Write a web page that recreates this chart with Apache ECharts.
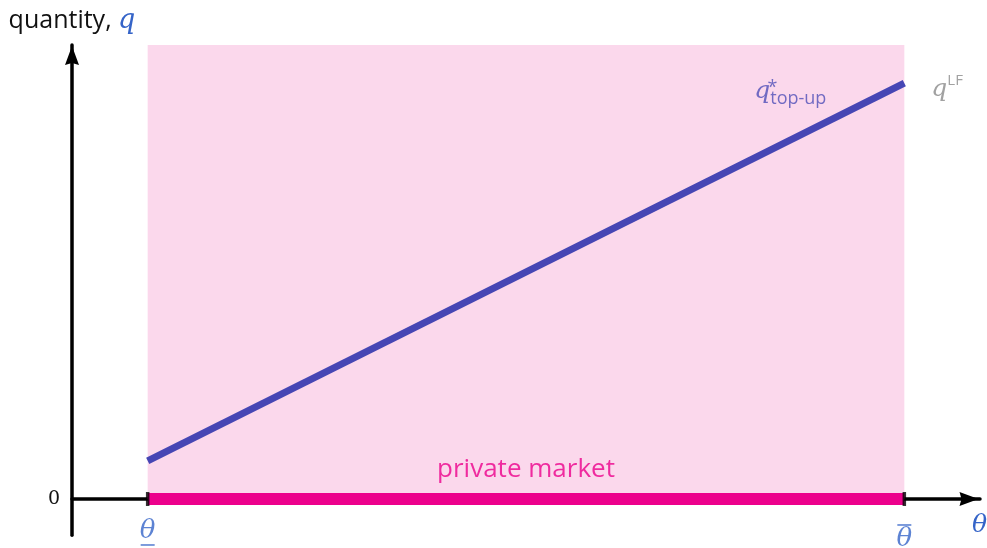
<!DOCTYPE html>
<html>
<head>
<meta charset="utf-8">
<script src="https://cdn.jsdelivr.net/npm/echarts@6/dist/echarts.min.js"></script>
<style>html,body{margin:0;padding:0;background:#fff}#chart{width:987px;height:548px}</style>
</head>
<body>
<div id="chart"></div>
<script>
// type range and axis extents
const thetaLow = 1;
const thetaHigh = 11;
const thetaMax = 12;
const qMin = -0.8;
const qMax = 10;
// optimal top-up quantity at the two ends of the type range
const topUpQ = [0.84, 9.16];
const privateMarketQ = [0, 0];
const yTickValues = [0];

const blueText = '#3564c8';
const lineBlue = '#4646b4';
const labelBlue = '#4f4fb8';
const magenta = '#ec008c';
const pinkFill = '#fbd8ec';
const sansFont = '"Open Sans", Lato, sans-serif';
const serifFont = '"DejaVu Serif", "Liberation Serif", serif';
const arrowHead = 'path://M7,0 L14,19 L7,17 L0,19 Z';

const thetaRich = {
  t: { fontFamily: serifFont, fontStyle: 'italic', fontSize: 26, color: blueText, lineHeight: 22, align: 'center' },
  bar: { width: 14, height: 1.6, backgroundColor: blueText, fontSize: 2, lineHeight: 6, align: 'center' }
};

const chart = echarts.init(document.getElementById('chart'));
chart.setOption({
  animation: false,
  grid: { left: 72, right: 7, top: 45, bottom: 12.7, containLabel: false, outerBoundsMode: 'none' },
  xAxis: {
    type: 'value', min: 0, max: thetaMax,
    splitLine: { show: false },
    axisLine: { onZero: true, lineStyle: { color: '#000', width: 3.5 }, symbol: ['none', arrowHead], symbolSize: [15, 19], symbolOffset: [0, -11] },
    axisTick: { show: false },
    axisLabel: { show: false },
    name: 'θ',
    nameLocation: 'end',
    nameGap: -8,
    nameTextStyle: { fontFamily: serifFont, fontStyle: 'italic', fontSize: 25, color: blueText, verticalAlign: 'top', padding: [14, 0, 0, 0] }
  },
  yAxis: {
    type: 'value', min: qMin, max: qMax,
    splitLine: { show: false },
    axisLine: { onZero: true, lineStyle: { color: '#000', width: 3.5 }, symbol: ['none', arrowHead], symbolSize: [15, 19], symbolOffset: [0, -10.5] },
    axisTick: { show: false },
    axisLabel: {
      customValues: yTickValues,
      margin: 12,
      fontFamily: serifFont, fontSize: 19, color: '#111'
    },
    name: '{a|quantity, }{q|q}',
    nameLocation: 'end',
    nameGap: 11,
    nameTextStyle: {
      align: 'center',
      rich: {
        a: { fontFamily: sansFont, fontSize: 25, color: '#111' },
        q: { fontFamily: serifFont, fontStyle: 'italic', fontSize: 27, color: blueText }
      }
    }
  },
  series: [
    {
      // private market region and the bar along the axis
      type: 'line', name: 'private market',
      data: [[thetaLow, privateMarketQ[0]], [thetaHigh, privateMarketQ[1]]],
      symbol: 'none', z: 3,
      lineStyle: { color: magenta, width: 12, cap: 'butt' },
      markArea: {
        silent: true,
        itemStyle: { color: pinkFill, opacity: 1 },
        data: [[{ coord: [thetaLow, 0] }, { coord: [thetaHigh, qMax] }]]
      }
    },
    {
      // label above the bar's midpoint
      type: 'scatter', symbolSize: 0, z: 4,
      data: [[(thetaLow + thetaHigh) / 2, privateMarketQ[0]]],
      label: { show: true, position: 'top', distance: 16, formatter: 'private market', fontFamily: sansFont, fontSize: 26, color: magenta }
    },
    {
      type: 'line', name: 'top-up',
      data: [[thetaLow, topUpQ[0]], [thetaHigh, topUpQ[1]]],
      symbol: 'none', z: 5,
      lineStyle: { color: lineBlue, width: 7, cap: 'butt' }
    },
    {
      // tick marks at the ends of the type range, with their labels
      type: 'scatter', z: 6,
      symbol: 'rect', symbolSize: [3.5, 14],
      itemStyle: { color: '#000' },
      data: [
        { value: [thetaLow, 0], label: { show: true, position: 'bottom', distance: 14, formatter: '{t|θ}\n{bar| }', rich: thetaRich } },
        { value: [thetaHigh, 0], label: { show: true, position: 'bottom', distance: 16, formatter: '{bar| }\n{t|θ}', rich: thetaRich } }
      ]
    },
    {
      // curve labels at the upper end
      type: 'scatter', symbolSize: 0, z: 7,
      data: [
        { value: [thetaHigh, topUpQ[1]], label: { show: true, position: 'left', offset: [-129, 8], formatter: '{q|q}', rich: { q: { fontFamily: serifFont, fontStyle: 'italic', fontSize: 25, color: labelBlue } } } },
        { value: [thetaHigh, topUpQ[1]], label: { show: true, position: 'left', offset: [-122, 5], formatter: '{s|*}', rich: { s: { fontFamily: sansFont, fontSize: 18, color: labelBlue } } } },
        { value: [thetaHigh, topUpQ[1]], label: { show: true, position: 'left', offset: [-73, 16], formatter: '{s|top-up}', rich: { s: { fontFamily: sansFont, fontSize: 18, color: labelBlue } } } },
        { value: [thetaHigh, topUpQ[1]], label: { show: true, position: 'right', offset: [22, 6], formatter: '{q|q}{s|LF}', rich: { q: { fontFamily: serifFont, fontStyle: 'italic', fontSize: 25, color: '#8a8a8a' }, s: { fontFamily: sansFont, fontSize: 15, color: '#8a8a8a', verticalAlign: 'top', padding: [0, 0, 16, 0] } } } }
      ]
    }
  ]
});
</script>
</body>
</html>
